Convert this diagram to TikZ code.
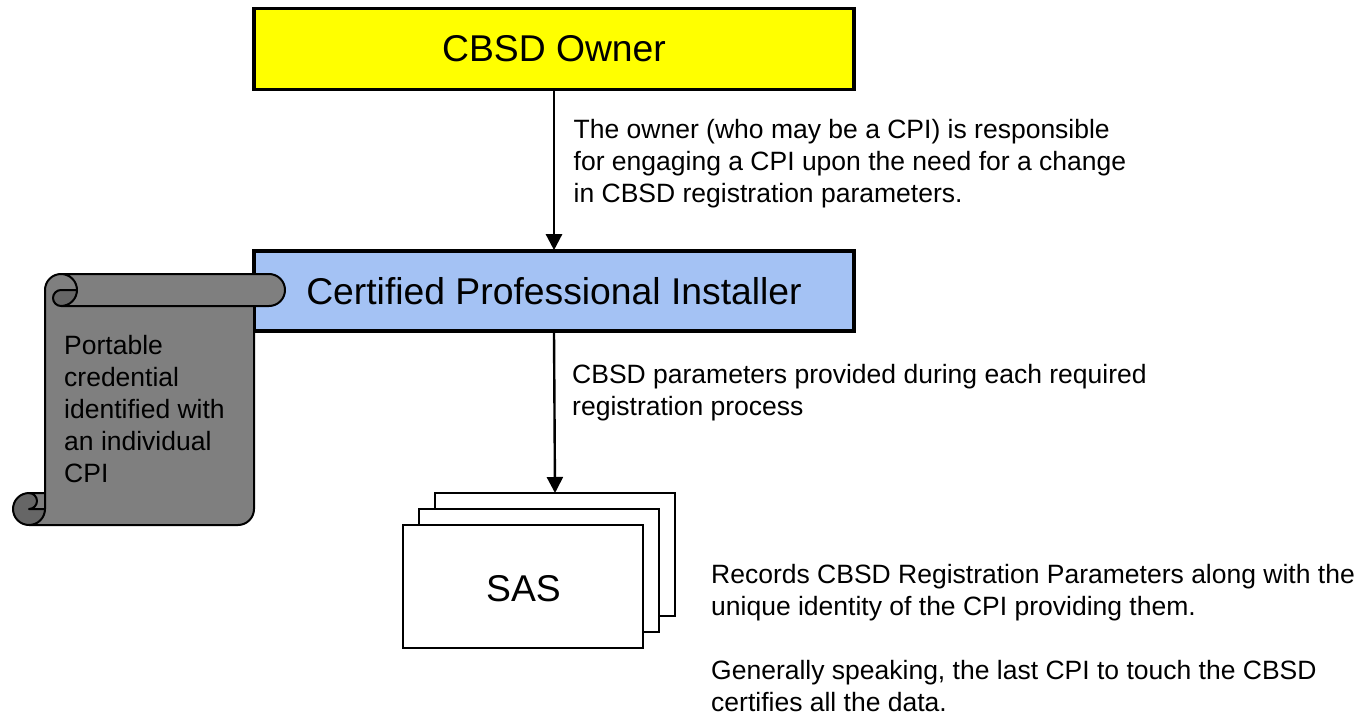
\documentclass[tikz,border=0pt]{standalone}
\usepackage{fontspec}
\setmainfont{Liberation Sans}
\usetikzlibrary{arrows.meta}
\definecolor{ownerfill}{HTML}{FFFF00}
\definecolor{cpifill}{HTML}{A4C2F4}
\definecolor{scrollfill}{HTML}{7F7F7F}
\definecolor{curlfill}{HTML}{666666}
\tikzset{
  x=1pt,y=-1pt,
  bigbox/.style={draw=black,line width=3.6pt,minimum width=600pt,anchor=center,inner sep=0pt,font=\fontsize{37.3}{40}\selectfont},
  sheet/.style={draw=black,fill=white,line width=2pt,minimum width=240pt,minimum height=123pt,inner sep=0pt},
  lbl/.style={anchor=north west,inner sep=0pt,align=left,font=\fontsize{26.5}{32}\selectfont},
  conn/.style={draw=black,line width=2.4pt,-{Triangle[length=16pt,width=16pt]},shorten >=-1pt},
  scrollline/.style={draw=black,line width=2pt,line join=round}
}
\begin{document}
\begin{tikzpicture}
\useasboundingbox (0,0) rectangle (1362,714);
\node[bigbox,fill=ownerfill,minimum height=81pt] (owner) at (554,49) {CBSD Owner};
\node[bigbox,fill=cpifill,minimum height=80pt] (cpi) at (554,291) {Certified Professional Installer};
\node[sheet] (sas3) at (555,554.5) {};
\node[sheet] (sas2) at (539,570.5) {};
\node[sheet] (sas1) at (523,586.5) {};
\node[font=\fontsize{37.3}{40}\selectfont,inner sep=0pt] (sastext) at (523.5,588.5) {SAS};
\draw[conn] (owner.south) -- (cpi.north);
\draw[conn] (cpi.south) -- (sas3.north);
% scroll body
\fill[scrollfill] (45,290) arc[start angle=180,end angle=270,radius=16] -- (269,274)
  arc[start angle=-90,end angle=90,radius=16] -- (254,306) -- (254,509)
  arc[start angle=0,end angle=90,radius=16] -- (29,525) -- (45,493) -- cycle;
\fill[scrollfill] (29,493) -- (45,493) -- (45,509) -- (29,509) -- cycle;
% dark curl, top
\fill[curlfill] (77,290) arc[start angle=0,end angle=90,radius=16]
  arc[start angle=90,end angle=270,radius=8] -- cycle;
% dark curl, bottom
\fill[curlfill] (29,493) arc[start angle=270,end angle=90,radius=16]
  arc[start angle=90,end angle=0,radius=16] -- (29,509)
  arc[start angle=90,end angle=-90,radius=8] -- cycle;
% outlines, top
\draw[scrollline] (61,306) -- (269,306) arc[start angle=90,end angle=-90,radius=16] -- (61,274)
  arc[start angle=-90,end angle=90,radius=16]
  arc[start angle=90,end angle=270,radius=8] -- (77,290);
\draw[scrollline] (45,290) arc[start angle=180,end angle=270,radius=16];
% outlines, bottom and sides
\draw[scrollline] (45,290) -- (45,509) arc[start angle=0,end angle=90,radius=16]
  arc[start angle=90,end angle=270,radius=16] -- (45,493);
\draw[scrollline] (29,493) arc[start angle=-90,end angle=90,radius=8] -- (45,509);
\draw[scrollline] (29,525) -- (238,525) arc[start angle=90,end angle=0,radius=16] -- (254,306);
\node[lbl] (t0) at (64,335) {Portable\\credential\\identified with\\an individual\\CPI};
\node[lbl] (t1) at (573.5,119) {The owner (who may be a CPI) is responsible\\for engaging a CPI upon the need for a change\\in CBSD registration parameters.};
\node[lbl] (t2) at (572,364) {CBSD parameters provided during each required\\registration process};
\node[lbl] (t3) at (711,564) {Records CBSD Registration Parameters along with the\\unique identity of the CPI providing them.\\[32pt]Generally speaking, the last CPI to touch the CBSD\\certifies all the data.};
\end{tikzpicture}
\end{document}
